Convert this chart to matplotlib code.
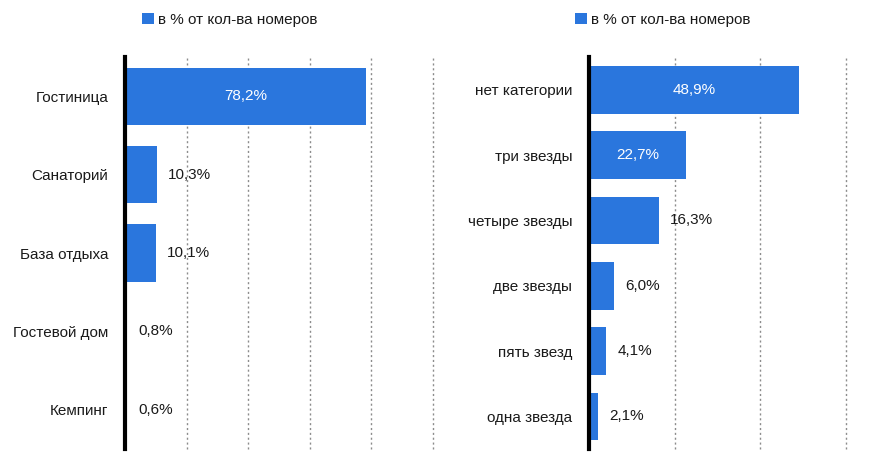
import matplotlib
matplotlib.use('Agg')
import matplotlib.pyplot as plt
from matplotlib import font_manager

# narrow font if available, otherwise a smaller regular one
names = {f.name for f in font_manager.fontManager.ttflist}
if 'Liberation Sans Narrow' in names:
    plt.rcParams['font.family'] = ['Liberation Sans Narrow', 'DejaVu Sans']
    fs = 13
else:
    plt.rcParams['font.family'] = ['Liberation Sans', 'DejaVu Sans']
    fs = 11

# left chart: by type of accommodation
types = ['Гостиница', 'Санаторий', 'База отдыха', 'Гостевой дом', 'Кемпинг']
types_share = [78.2, 10.3, 10.1, 0.8, 0.6]

# right chart: by category
stars = ['нет категории', 'три звезды', 'четыре звезды', 'две звезды', 'пять звезд', 'одна звезда']
stars_share = [48.9, 22.7, 16.3, 6.0, 4.1, 2.1]

legend_label = 'в % от кол-ва номеров'
blue = '#2A76DD'
dark = '#1a1a1a'

fig = plt.figure(figsize=(8.71, 4.74), dpi=100)
ax1 = fig.add_axes([0.1435, 0.0527, 0.3536, 0.827])
ax2 = fig.add_axes([0.6759, 0.0527, 0.2958, 0.827])


def draw(ax, cats, vals, xmax, grid, leg_x):
    bars = ax.barh(cats, vals, height=0.73, color=blue, label=legend_label, zorder=3)
    ax.set_xlim(0, xmax)
    ax.set_ylim(len(cats) - 0.5, -0.5)
    for g in grid:
        ax.axvline(g, color='#8c8c8c', lw=1, ls=(0, (1.5, 2)), zorder=0, clip_on=False)
    for b, v in zip(bars, vals):
        txt = f'{v:.1f}'.replace('.', ',') + '%'
        y = b.get_y() + b.get_height() / 2
        if v > 20:
            ax.text(v / 2, y, txt, ha='center', va='center', color='white', fontsize=fs, zorder=4)
        else:
            ax.annotate(txt, (v, y), xytext=(8, 0), textcoords='offset points',
                        ha='left', va='center', color=dark, fontsize=fs)
    for s in ['top', 'right', 'bottom']:
        ax.spines[s].set_visible(False)
    ax.spines['left'].set_linewidth(3)
    ax.spines['left'].set_color('black')
    ax.spines['left'].set_zorder(5)
    ax.set_xticks([])
    ax.tick_params(axis='y', length=0, pad=12, labelsize=fs, labelcolor=dark)
    ax.legend(loc='center', bbox_to_anchor=(leg_x, 0.958), bbox_transform=fig.transFigure,
              frameon=False, fontsize=fs, handlelength=0.75, handleheight=0.75,
              handletextpad=0.3, labelcolor=dark)


draw(ax1, types, types_share, 100, [20, 40, 60, 80, 100], 0.264)
draw(ax2, stars, stars_share, 60, [20, 40, 60], 0.761)

fig.savefig('out.png', dpi=100)
